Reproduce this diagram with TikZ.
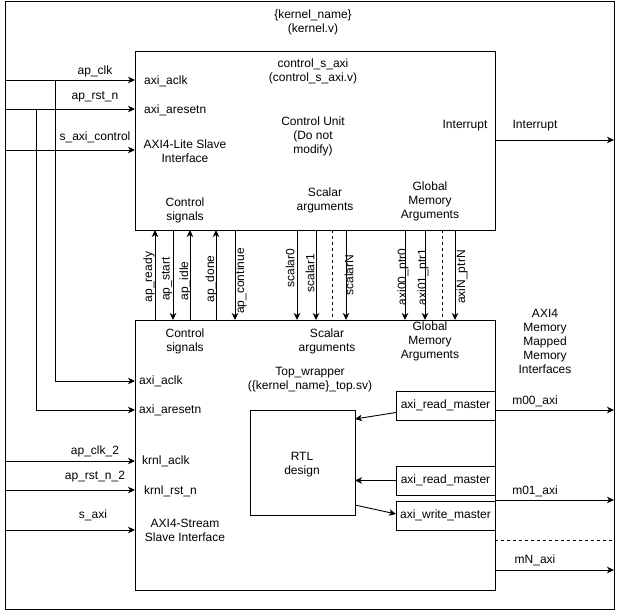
\documentclass[tikz,border=0pt]{standalone}
\usepackage{fontspec}
\setmainfont{Liberation Sans}
\usetikzlibrary{arrows.meta}

\begin{document}
\begin{tikzpicture}[x=1pt,y=-1pt,
  every node/.style={font=\fontsize{12}{14}\selectfont,align=center,inner sep=0pt},
  blk/.style={draw,line width=0.9pt,inner sep=0pt,outer sep=0pt},
  sig/.style={line width=0.9pt,-{Stealth[length=7pt,width=6.5pt,inset=2pt]}},
  wire/.style={line width=0.9pt},
  dwire/.style={line width=0.9pt,dash pattern=on 3pt off 3pt},
  vlab/.style={rotate=90}]
  \useasboundingbox (0,0) rectangle (626,612);
  % outer kernel block
  \node[blk,minimum width=609pt,minimum height=608pt] (kern) at (309.5,305) {};
  \node (kname) at (313,22) {\{kernel\_name\}\\(kernel.v)};
  % control unit
  \node[blk,minimum width=360pt,minimum height=179pt] (ctrl) at (315,140.5) {};
  \node (cname) at (313,71) {control\_s\_axi\\(control\_s\_axi.v)};
  \node (cunit) at (313,136) {Control Unit\\(Do not\\modify)};
  \node[anchor=west] (c-aclk) at (144,81) {axi\_aclk};
  \node[anchor=west] (c-arst) at (144,110) {axi\_aresetn};
  \node (c-lite) at (185,151.5) {AXI4-Lite Slave\\Interface};
  \node (c-irq) at (465,126) {Interrupt};
  \node (c-ctl) at (185,210) {Control\\signals};
  \node (c-sca) at (325,200) {Scalar\\arguments};
  \node (c-gma) at (430,201) {Global\\Memory\\Arguments};
  % top wrapper
  \node[blk,minimum width=360pt,minimum height=270pt] (wrap) at (315,455) {};
  \node (w-ctl) at (185,341) {Control\\signals};
  \node (w-sca) at (327,341) {Scalar\\arguments};
  \node (w-gma) at (430,341) {Global\\Memory\\Arguments};
  \node (wname) at (310,380) {Top\_wrapper\\(\{kernel\_name\}\_top.sv)};
  \node[anchor=west] (w-aclk) at (139,381) {axi\_aclk};
  \node[anchor=west] (w-arst) at (139,410) {axi\_aresetn};
  \node[anchor=west] (w-kclk) at (142,461) {krnl\_aclk};
  \node[anchor=west] (w-krst) at (144,491) {krnl\_rst\_n};
  \node (w-strm) at (185,530) {AXI4-Stream\\Slave Interface};
  \node[blk,minimum width=105pt,minimum height=105pt] (rtl) at (302.5,462.5) {};
  \node (rtlname) at (302,465) {RTL\\design};
  \node[blk,minimum width=99pt,minimum height=29pt] (rd1) at (445.5,405.5) {axi\_read\_master};
  \node[blk,minimum width=99pt,minimum height=29pt] (rd2) at (445.5,480.5) {axi\_read\_master};
  \node[blk,minimum width=99pt,minimum height=29pt] (wr) at (445.5,515.5) {axi\_write\_master};
  \node (mmif) at (545,341) {AXI4\\Memory\\Mapped\\Memory\\Interfaces};

  % clock, reset and slave inputs
  \coordinate (i-clk) at (5,80);
  \coordinate (i-rst) at (5,109);
  \coordinate (i-ctl) at (5,150);
  \coordinate (j-clk) at (55,80);
  \coordinate (j-rst) at (36,109);
  \coordinate (i-clk2) at (5,461);
  \coordinate (i-rst2) at (5,490);
  \coordinate (i-saxi) at (5,530);
  \draw[sig] (i-clk) -- (ctrl.west |- i-clk);
  \draw[sig] (i-rst) -- (ctrl.west |- i-rst);
  \draw[sig] (i-ctl) -- (ctrl.west |- i-ctl);
  \draw[sig] (j-clk) |- (wrap.west |- w-aclk);
  \draw[sig] (j-rst) |- (wrap.west |- w-arst);
  \draw[sig] (i-clk2) -- (wrap.west |- i-clk2);
  \draw[sig] (i-rst2) -- (wrap.west |- i-rst2);
  \draw[sig] (i-saxi) -- (wrap.west |- i-saxi);
  \node (l-clk) at (95,71) {ap\_clk};
  \node (l-rst) at (95,97) {ap\_rst\_n};
  \node (l-ctl) at (95,137) {s\_axi\_control};
  \node (l-clk2) at (95,451) {ap\_clk\_2};
  \node (l-rst2) at (95,477) {ap\_rst\_n\_2};
  \node (l-saxi) at (93,515) {s\_axi};

  % wires between control unit and wrapper
  \foreach \x/\n in {155/rdy,173/sta,190/idl,216/don,235/con,297/sc0,316/sc1,
                     332/dsc,346/scN,405/p0,425/p1,442/dp,455/pN}{
    \coordinate (t-\n) at (\x,230);
    \coordinate (b-\n) at (\x,320);
  }
  \foreach \n in {rdy,idl,don} \draw[sig] (b-\n) -- (t-\n);
  \foreach \n in {sta,con,sc0,sc1,scN,p0,p1,pN} \draw[sig] (t-\n) -- (b-\n);
  \foreach \n in {dsc,dp} \draw[dwire] (t-\n) -- (b-\n);
  \node[vlab] (v-rdy) at (149,277) {ap\_ready};
  \node[vlab] (v-sta) at (167,279) {ap\_start};
  \node[vlab] (v-idl) at (185,281) {ap\_idle};
  \node[vlab] (v-don) at (211,279) {ap\_done};
  \node[vlab] (v-con) at (241,281) {ap\_continue};
  \node[vlab] (v-sc0) at (290,268) {scalar0};
  \node[vlab] (v-sc1) at (310,273) {scalar1};
  \node[vlab] (v-scN) at (349,275) {scalarN};
  \node[vlab] (v-p0) at (403,277) {axi00\_ptr0};
  \node[vlab] (v-p1) at (423,277) {axi01\_ptr1};
  \node[vlab] (v-pN) at (462,277) {axiN\_ptrN};

  % interrupt and memory mapped outputs
  \coordinate (o-irq) at (614,140);
  \coordinate (o-m0) at (614,410);
  \coordinate (o-m1) at (614,500);
  \coordinate (o-dm) at (614,540);
  \coordinate (o-mN) at (614,570);
  \draw[sig] (ctrl.east |- o-irq) -- (o-irq);
  \draw[sig] (wrap.east |- o-m0) -- (o-m0);
  \draw[sig] (wrap.east |- o-m1) -- (o-m1);
  \draw[dwire] (wrap.east |- o-dm) -- (o-dm);
  \draw[sig] (wrap.east |- o-mN) -- (o-mN);
  \node (o-irqlab) at (535,126) {Interrupt};
  \node (o-m0lab) at (535,401) {m00\_axi};
  \node (o-m1lab) at (535,491) {m01\_axi};
  \node (o-mNlab) at (535,560) {mN\_axi};

  % masters to and from RTL
  \draw[sig] ([yshift=-7pt]rd1.west) -- ([yshift=43.5pt]rtl.east);
  \draw[sig] (rd2.west) -- (rtl.east |- rd2.west);
  \draw[sig] ([yshift=-42.5pt]rtl.east) -- ([yshift=1.5pt]wr.west);
\end{tikzpicture}
\end{document}
